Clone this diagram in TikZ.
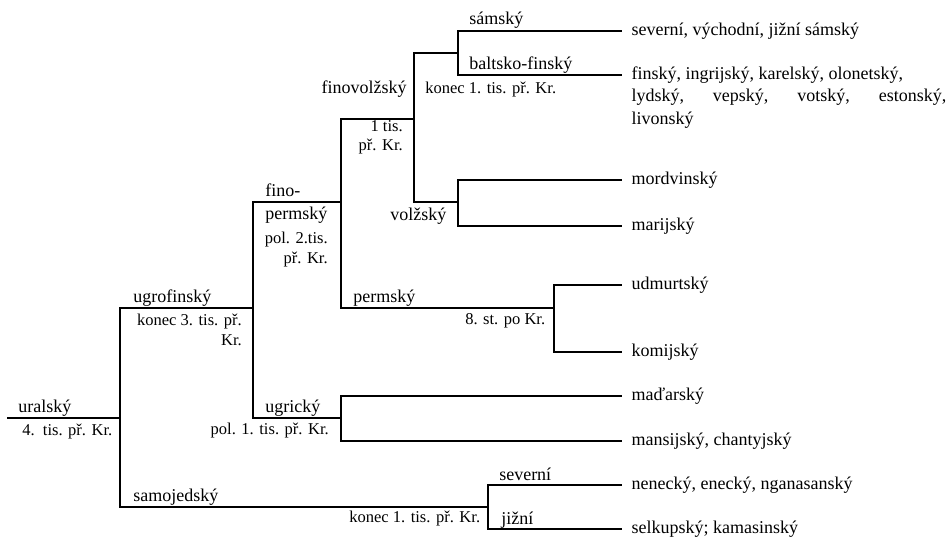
\documentclass[tikz,border=0pt]{standalone}
\usepackage{fontspec}
\setmainfont{Liberation Serif}
\usetikzlibrary{positioning}

\newcommand{\langfont}{\fontsize{13.5}{16}\selectfont}
\newcommand{\erafont}{\fontsize{12.4}{14.5}\selectfont}

\begin{document}
\begin{tikzpicture}[
        x=0.75pt, y=-0.75pt,
        branch/.style={line width=0.9pt},
        lang/.style={anchor=base west, inner sep=0pt, font=\langfont},
        era/.style={anchor=base west, inner sep=0pt, font=\erafont},
        eras/.style={anchor=north east, inner sep=0pt, align=right, font=\erafont},
        leaf/.style={anchor=west, inner xsep=7pt, inner ysep=0pt, text height=9.5pt, text depth=3pt, font=\langfont}
    ]
        \useasboundingbox (0,0) rectangle (951,538);

        % Branching points of the tree
        \coordinate (root) at (7,418);
        \coordinate (ural) at (120,418);
        \coordinate (ugrofin) at (253,308);
        \coordinate (finperm) at (341,202);
        \coordinate (finvolg) at (414,119);
        \coordinate (baltsam) at (458,53);
        \coordinate (volg) at (458,202);
        \coordinate (perm) at (554,308);
        \coordinate (ugr) at (341,418);
        \coordinate (samoj) at (488,507);

        % Languages of today on the right
        \node[leaf] (sam) at (622,31) {severní, východní, jižní sámský};
        \node[leaf] (bf) at (622,75) {finský, ingrijský, karelský, olonetský,};
        \node[leaf, below=4pt of bf.south west, anchor=north west] (bf2) {\makebox[236pt][s]{lydský, vepský, votský, estonský,}};
        \node[leaf, below=4pt of bf2.south west, anchor=north west] (bf3) {livonský};
        \node[leaf] (mord) at (622,180) {mordvinský};
        \node[leaf] (mari) at (622,226) {marijský};
        \node[leaf] (udm) at (622,285) {udmurtský};
        \node[leaf] (komi) at (622,352) {komijský};
        \node[leaf] (madar) at (622,396) {maďarský};
        \node[leaf] (mansi) at (622,441) {mansijský, chantyjský};
        \node[leaf] (nen) at (622,485) {nenecký, enecký, nganasanský};
        \node[leaf] (selk) at (622,529) {selkupský; kamasinský};

        % Branch names
        \node[lang] (uralL) at (18,413) {uralský};
        \node[lang] (ugrofinL) at (133,303) {ugrofinský};
        \node[lang] (samojL) at (133,502) {samojedský};
        \node[lang] (ugrL) at (265,413) {ugrický};
        \node[lang] (finpermL) at (265,197) {fino-};
        \node[lang] (finpermL2) at (265,220) {permský};
        \node[lang, anchor=base east] (finvolgL) at (407,94) {finovolžský};
        \node[lang] (samL) at (469,25) {sámský};
        \node[lang] (bfL) at (469,70) {baltsko-finský};
        \node[lang] (volgL) at (390,221) {volžský};
        \node[lang] (permL) at (353,303) {permský};
        \node[lang] (sevL) at (499,481) {severní};
        \node[lang] (jizL) at (501,525) {jižní};

        % Dates of the splits
        \node[era] (uralT) at (22,436) {4.\ \ tis. př. Kr.};
        \node[eras] (ugrofinT) at (242,314) {konec 3. tis. př.\\Kr.};
        \node[era, anchor=base east] (ugrT) at (329,435) {pol. 1. tis. př. Kr.};
        \node[eras] (finpermT) at (328,232) {pol. 2.tis.\\př. Kr.};
        \node[eras] (finvolgT) at (403,120) {1 tis.\\př. Kr.};
        \node[era] (baltsamT) at (425,94) {konec 1. tis. př. Kr.};
        \node[era] (permT) at (465,325) {8. st. po Kr.};
        \node[era] (samojT) at (349,523) {konec 1. tis. př. Kr.};

        % Tree lines
        \draw[branch] (root) -- (ural);
        \draw[branch] (ural) |- (ugrofin);
        \draw[branch] (ural) |- (samoj);
        \draw[branch] (ugrofin) |- (finperm);
        \draw[branch] (ugrofin) |- (ugr);
        \draw[branch] (finperm) |- (finvolg);
        \draw[branch] (finperm) |- (perm);
        \draw[branch] (finvolg) |- (baltsam);
        \draw[branch] (finvolg) |- (volg);
        \draw[branch] (baltsam) |- (sam.west);
        \draw[branch] (baltsam) |- (bf.west);
        \draw[branch] (volg) |- (mord.west);
        \draw[branch] (volg) |- (mari.west);
        \draw[branch] (perm) |- (udm.west);
        \draw[branch] (perm) |- (komi.west);
        \draw[branch] (ugr) |- (madar.west);
        \draw[branch] (ugr) |- (mansi.west);
        \draw[branch] (samoj) |- (nen.west);
        \draw[branch] (samoj) |- (selk.west);
    \end{tikzpicture}
\end{document}
